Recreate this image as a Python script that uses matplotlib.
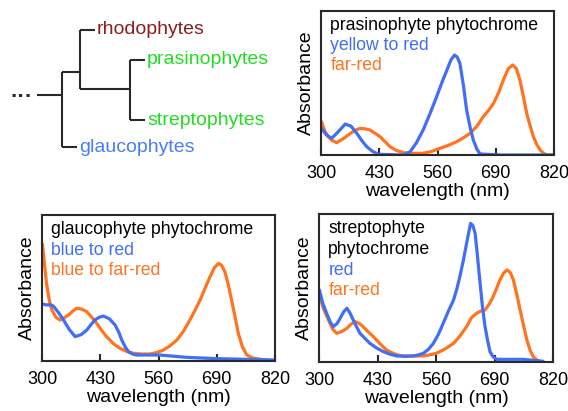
import numpy as np
import matplotlib.pyplot as plt

plt.rcParams['font.family'] = ['Liberation Sans', 'DejaVu Sans']

BLUE = "#416ef5"
ORANGE = "#ff7420"
DARK = "#2a2a2a"

# ---------------- spectra (wavelength nm, relative absorbance) ----------------
# prasinophyte phytochrome
pras_blue_x = [301, 312, 324, 338, 354, 367, 380, 391, 402, 415, 428, 484, 499, 513, 528, 543, 558, 570, 581, 590, 598, 604, 610, 618, 625, 633, 640, 648, 655, 700, 760, 820]
pras_blue_y = [0.185, 0.140, 0.116, 0.160, 0.215, 0.200, 0.150, 0.100, 0.058, 0.025, 0.005, 0.0, 0.023, 0.085, 0.174, 0.285, 0.405, 0.505, 0.590, 0.660, 0.694, 0.680, 0.637, 0.480, 0.312, 0.190, 0.104, 0.040, 0.007, 0.0, 0.0, 0.0]
pras_orng_x = [301, 308, 316, 325, 335, 348, 361, 374, 387, 398, 409, 420, 432, 443, 454, 468, 484, 505, 528, 547, 566, 585, 603, 618, 633, 648, 662, 674, 685, 696, 707, 718, 728, 736, 744, 752, 759, 767, 774, 782, 789, 797, 804, 820]
pras_orng_y = [0.231, 0.170, 0.127, 0.100, 0.086, 0.110, 0.139, 0.168, 0.185, 0.182, 0.174, 0.152, 0.127, 0.092, 0.058, 0.032, 0.016, 0.012, 0.012, 0.025, 0.047, 0.068, 0.093, 0.120, 0.151, 0.200, 0.266, 0.310, 0.359, 0.430, 0.521, 0.600, 0.625, 0.600, 0.521, 0.400, 0.290, 0.200, 0.127, 0.070, 0.035, 0.012, 0.0, 0.0]

# glaucophyte phytochrome
glau_blue_x = [301, 310, 318, 325, 336, 348, 361, 374, 387, 400, 409, 418, 428, 437, 450, 463, 471, 478, 486, 493, 502, 511, 563, 623, 690, 820]
glau_blue_y = [0.390, 0.384, 0.385, 0.377, 0.335, 0.281, 0.215, 0.167, 0.180, 0.212, 0.248, 0.281, 0.300, 0.308, 0.290, 0.247, 0.200, 0.144, 0.095, 0.064, 0.048, 0.041, 0.041, 0.025, 0.016, 0.007]
glau_orng_x = [301, 305, 310, 316, 322, 331, 340, 349, 359, 368, 377, 388, 400, 411, 422, 433, 444, 459, 474, 489, 504, 522, 541, 556, 571, 586, 601, 616, 630, 642, 653, 664, 675, 685, 694, 701, 708, 716, 723, 731, 738, 747, 757, 771, 787, 820]
glau_orng_y = [0.800, 0.680, 0.532, 0.420, 0.349, 0.300, 0.281, 0.295, 0.315, 0.340, 0.361, 0.356, 0.338, 0.300, 0.258, 0.210, 0.167, 0.120, 0.087, 0.065, 0.053, 0.048, 0.048, 0.058, 0.075, 0.105, 0.144, 0.205, 0.281, 0.350, 0.418, 0.500, 0.577, 0.640, 0.669, 0.655, 0.612, 0.520, 0.418, 0.300, 0.190, 0.100, 0.041, 0.020, 0.012, 0.0]

# streptophyte phytochrome
strp_blue_x = [301, 308, 317, 325, 332, 340, 347, 355, 362, 369, 376, 384, 391, 402, 413, 428, 443, 458, 473, 492, 510, 521, 532, 543, 554, 565, 576, 587, 599, 606, 613, 621, 628, 633, 637, 642, 647, 652, 658, 663, 669, 675, 680, 687, 695, 754, 798]
strp_blue_y = [0.486, 0.400, 0.329, 0.270, 0.239, 0.260, 0.295, 0.340, 0.363, 0.330, 0.284, 0.235, 0.194, 0.160, 0.126, 0.095, 0.070, 0.052, 0.041, 0.038, 0.041, 0.048, 0.059, 0.085, 0.126, 0.185, 0.261, 0.340, 0.419, 0.490, 0.577, 0.690, 0.802, 0.880, 0.937, 0.920, 0.869, 0.720, 0.532, 0.380, 0.239, 0.140, 0.070, 0.035, 0.018, 0.018, 0.005]
strp_orng_x = [301, 310, 321, 330, 339, 350, 362, 371, 380, 389, 398, 409, 421, 435, 450, 465, 480, 506, 532, 546, 561, 580, 599, 613, 628, 639, 650, 660, 669, 678, 687, 695, 702, 710, 718, 725, 732, 740, 747, 755, 762, 769, 776, 786, 795]
strp_orng_y = [0.453, 0.360, 0.284, 0.225, 0.194, 0.205, 0.228, 0.255, 0.273, 0.262, 0.239, 0.205, 0.171, 0.125, 0.081, 0.058, 0.043, 0.040, 0.041, 0.048, 0.059, 0.088, 0.126, 0.175, 0.239, 0.300, 0.329, 0.345, 0.351, 0.390, 0.441, 0.500, 0.554, 0.600, 0.622, 0.605, 0.554, 0.450, 0.351, 0.240, 0.149, 0.080, 0.036, 0.010, 0.0]

xticks = [300, 430, 560, 690, 820]

# ---------------- tree (pixel layout of the cladogram) ----------------
leaf_names = ["rhodophytes", "prasinophytes", "streptophytes", "glaucophytes"]
leaf_colors = ["#8b1e1e", "#22dd22", "#22dd22", "#4a7ef5"]
leaf_y = [30, 60, 120, 147]
leaf_tip_x = [95, 145, 145, 77]
# internal nodes: x, y of vertical bar ends, and where the parent stem attaches
node_x = [62, 80, 130]
node_top = [72, 30, 60]
node_bot = [147, 89, 120]
stem_y = [95, 72, 89]
stem_from = [37, 62, 80]

W, H = 568, 411
fig = plt.figure(figsize=(W / 100, H / 100), dpi=100)


def px_axes(x0, y0, x1, y1):
    return fig.add_axes([x0 / W, 1 - y1 / H, (x1 - x0) / W, (y1 - y0) / H])


tax = px_axes(0, 0, 300, 180)
tax.set_xlim(0, 300)
tax.set_ylim(180, 0)
tax.axis("off")
for nx, t, b, sy, sf in zip(node_x, node_top, node_bot, stem_y, stem_from):
    tax.plot([nx, nx], [t, b], color=DARK, lw=1.5, solid_capstyle="butt")
    tax.plot([sf, nx], [sy, sy], color=DARK, lw=1.5, solid_capstyle="butt")
leaf_parent = [1, 2, 2, 0]
for name, col, ly, tx, p in zip(leaf_names, leaf_colors, leaf_y, leaf_tip_x, leaf_parent):
    tax.plot([node_x[p], tx], [ly, ly], color=DARK, lw=1.5, solid_capstyle="butt")
    tax.text(tx + 2, ly, name, color=col, fontsize=14, va="center", ha="left")
tax.text(22, 97, "\u00b7\u00b7\u00b7", fontsize=16, fontweight="bold", va="center", ha="center", color=DARK)


def panel(rect, bx, by, ox, oy, lines, line_colors):
    ax = px_axes(*rect)
    ax.plot(ox, oy, color=ORANGE, lw=2.3, solid_joinstyle="round", solid_capstyle="round")
    ax.plot(bx, by, color=BLUE, lw=2.3, solid_joinstyle="round", solid_capstyle="round")
    ax.set_xlim(300, 820)
    ax.set_ylim(0, 1.0)
    ax.set_xticks(xticks)
    ax.set_xticklabels([str(t) for t in xticks], fontsize=13)
    ax.tick_params(axis="x", direction="in", length=5, width=1.5, color=DARK, pad=7)
    ax.set_yticks([])
    for s in ax.spines.values():
        s.set_linewidth(1.5)
        s.set_color(DARK)
    ax.set_xlabel("wavelength (nm)", fontsize=14, labelpad=1)
    ax.set_ylabel("Absorbance", fontsize=14, labelpad=4)
    for i, (txt, c) in enumerate(zip(lines, line_colors)):
        ax.text(0.04, 0.9 - i * 0.14, txt, color=c, fontsize=12.7, transform=ax.transAxes,
                va="center", ha="left")
    return ax


panel((321, 11, 554, 155), pras_blue_x, pras_blue_y, pras_orng_x, pras_orng_y,
      ["prasinophyte phytochrome", "yellow to red", "far-red"], ["black", BLUE, ORANGE])
panel((42, 215, 275, 361), glau_blue_x, glau_blue_y, glau_orng_x, glau_orng_y,
      ["glaucophyte phytochrome", "blue to red", "blue to far-red"], ["black", BLUE, ORANGE])
panel((319, 214, 553, 362), strp_blue_x, strp_blue_y, strp_orng_x, strp_orng_y,
      ["streptophyte", "phytochrome", "red", "far-red"], ["black", "black", BLUE, ORANGE])

fig.savefig("out.png", dpi=100)
